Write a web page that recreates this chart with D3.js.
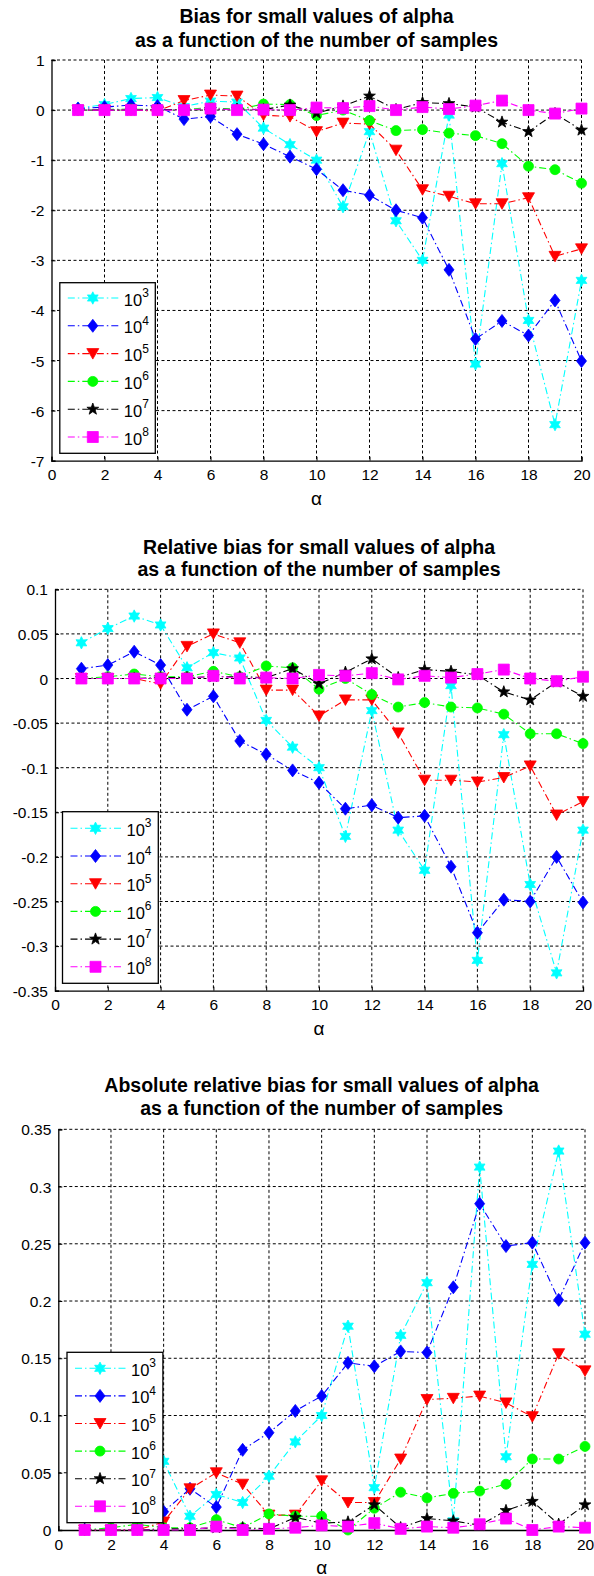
<!DOCTYPE html>
<html>
<head>
<meta charset="utf-8">
<script src="https://cdn.jsdelivr.net/npm/d3@7"></script>
<style>
  html, body { margin: 0; padding: 0; background: #fff; }
  svg { display: block; }
</style>
</head>
<body>
<svg id="chart" width="594" height="1576"></svg>
<script>
// ---------------- DATA ----------------
const alpha = [1,2,3,4,5,6,7,8,9,10,11,12,13,14,15,16,17,18,19,20];
const sampleExponents = ["3","4","5","6","7","8"];   // legend: 10^3 ... 10^8
const xTicks = [0,2,4,6,8,10,12,14,16,18,20];

// Chart 1: bias
const bias1e3 = [0.04,0.11,0.23,0.25,0.07,0.18,0.16,-0.36,-0.69,-1.0,-1.93,-0.43,-2.21,-3.0,-0.1,-5.07,-1.07,-4.2,-6.28,-3.4];
const bias1e4 = [0.03,0.06,0.1,0.08,-0.18,-0.13,-0.48,-0.68,-0.93,-1.18,-1.6,-1.7,-2.0,-2.15,-3.19,-4.57,-4.21,-4.5,-3.8,-5.01];
const bias1e5 = [0.0,0.0,0.0,-0.02,0.19,0.3,0.28,-0.1,-0.13,-0.43,-0.26,-0.28,-0.8,-1.59,-1.72,-1.87,-1.87,-1.75,-2.92,-2.77];
const bias1e6 = [0.0,0.01,0.02,0.01,0.01,0.05,0.01,0.12,0.11,-0.11,0.0,-0.21,-0.41,-0.39,-0.46,-0.51,-0.67,-1.12,-1.19,-1.46];
const bias1e7 = [0.0,0.0,0.0,0.01,0.01,0.01,0.02,0.01,0.1,-0.06,0.08,0.28,0.01,0.15,0.13,0.06,-0.24,-0.43,-0.07,-0.4];
const bias1e8 = [0.0,0.0,0.0,0.0,0.0,0.03,0.0,0.01,0.0,0.05,0.04,0.08,0.0,0.06,0.02,0.09,0.19,0.0,-0.07,0.03];
const yTicksBias = [1,0,-1,-2,-3,-4,-5,-6,-7];

// Chart 2: relative bias
const rel1e3 = [0.04,0.056,0.07,0.06,0.012,0.029,0.023,-0.047,-0.077,-0.1,-0.177,-0.036,-0.17,-0.215,-0.008,-0.316,-0.063,-0.231,-0.33,-0.17];
const rel1e4 = [0.011,0.015,0.03,0.015,-0.035,-0.02,-0.07,-0.085,-0.103,-0.117,-0.146,-0.142,-0.156,-0.154,-0.211,-0.285,-0.248,-0.25,-0.2,-0.251];
const rel1e5 = [0.0,0.0,0.0,-0.006,0.036,0.05,0.04,-0.013,-0.013,-0.042,-0.024,-0.024,-0.061,-0.114,-0.114,-0.116,-0.111,-0.098,-0.153,-0.138];
const rel1e6 = [0.0,0.002,0.005,0.002,0.002,0.008,0.002,0.014,0.012,-0.012,0.0,-0.018,-0.032,-0.027,-0.032,-0.033,-0.04,-0.062,-0.062,-0.073];
const rel1e7 = [0.0,0.0,0.0,0.001,0.001,0.002,0.002,0.001,0.011,-0.006,0.007,0.022,0.001,0.01,0.008,0.004,-0.015,-0.024,-0.004,-0.02];
const rel1e8 = [0.0,0.0,0.0,0.0,0.0,0.003,0.0,0.001,0.0,0.004,0.003,0.006,-0.001,0.003,0.001,0.005,0.01,0.0,-0.003,0.002];
const yTicksRel = [0.1,0.05,0,-0.05,-0.1,-0.15,-0.2,-0.25,-0.3,-0.35];

// Chart 3: absolute relative bias
const abs1e3 = [0.04,0.056,0.07,0.06,0.012,0.031,0.024,0.047,0.077,0.1,0.178,0.037,0.17,0.216,0.008,0.317,0.064,0.232,0.331,0.171];
const abs1e4 = [0.011,0.015,0.03,0.016,0.036,0.02,0.07,0.085,0.104,0.117,0.146,0.143,0.156,0.155,0.212,0.285,0.248,0.251,0.201,0.251];
const abs1e5 = [0.0,0.0,0.0,0.007,0.036,0.05,0.04,0.013,0.013,0.043,0.024,0.024,0.062,0.114,0.115,0.117,0.111,0.099,0.154,0.139];
const abs1e6 = [0.0,0.002,0.005,0.002,0.002,0.009,0.002,0.014,0.012,0.012,0.0,0.019,0.033,0.028,0.032,0.034,0.04,0.062,0.062,0.073];
const abs1e7 = [0.0,0.0,0.0,0.001,0.001,0.002,0.002,0.001,0.011,0.006,0.007,0.022,0.002,0.01,0.008,0.004,0.017,0.025,0.005,0.022];
const abs1e8 = [0.0,0.0,0.0,0.0,0.0,0.003,0.0,0.001,0.002,0.004,0.003,0.006,0.001,0.003,0.002,0.005,0.01,0.0,0.003,0.002];
const yTicksAbs = [0,0.05,0.1,0.15,0.2,0.25,0.3,0.35];

const titles1 = ["Bias for small values of alpha", "as a function of the number of samples"];
const titles2 = ["Relative bias for small values of alpha", "as a function of the number of samples"];
const titles3 = ["Absolute relative bias for small values of alpha", "as a function of the number of samples"];
const xLabel = "\u03B1";

// ---------------- STYLE ----------------
const colors = ["#00ffff", "#0000ff", "#ff0000", "#00ff00", "#000000", "#ff00ff"];
const markerTypes = ["hexagram", "diamond", "triangleDown", "circle", "pentagram", "square"];
const FONT = "'Liberation Sans', Arial, Helvetica, sans-serif";

function starPath(n, ro, ri, rot) {
  const pts = [];
  for (let i = 0; i < 2 * n; i++) {
    const r = i % 2 === 0 ? ro : ri;
    const a = rot + i * Math.PI / n;
    pts.push([r * Math.sin(a), -r * Math.cos(a)]);
  }
  return "M" + pts.map(p => p[0].toFixed(2) + "," + p[1].toFixed(2)).join("L") + "Z";
}
const circlePath = (() => { const p = d3.path(); p.arc(0, 0, 5, 0, 2 * Math.PI); p.closePath(); return p.toString(); })();
const markerPaths = {
  hexagram: starPath(6, 6.2, 3.4, 0),
  diamond: "M0,-6.5L5,0L0,6.5L-5,0Z",
  triangleDown: "M-6,-5L6,-5L0,5.5Z",
  circle: circlePath,
  pentagram: starPath(5, 6.2, 2.5, 0),
  square: "M-5.5,-5.5L5.5,-5.5L5.5,5.5L-5.5,5.5Z"
};

// ---------------- LAYOUT ----------------
const panels = [
  { titles: titles1, series: [bias1e3, bias1e4, bias1e5, bias1e6, bias1e7, bias1e8],
    yTicks: yTicksBias, yDomain: [-7, 1],
    rect: { l: 51.5, r: 581.5, t: 60, b: 460.7 }, titleY: [16, 39.5], xTickY: 475, xLabelY: 498,
    legend: { l: 59.8, r: 155.3, t: 282.7, b: 453.3, y0: 298, dy: 27.8 } },
  { titles: titles2, series: [rel1e3, rel1e4, rel1e5, rel1e6, rel1e7, rel1e8],
    yTicks: yTicksRel, yDomain: [-0.35, 0.1],
    rect: { l: 55, r: 583, t: 589.3, b: 990.7 }, titleY: [547, 569.3], xTickY: 1005, xLabelY: 1028,
    legend: { l: 62.5, r: 158.3, t: 811.7, b: 983.3, y0: 828.3, dy: 27.7 } },
  { titles: titles3, series: [abs1e3, abs1e4, abs1e5, abs1e6, abs1e7, abs1e8],
    yTicks: yTicksAbs, yDomain: [0, 0.35],
    rect: { l: 58.3, r: 585, t: 1129.3, b: 1530 }, titleY: [1085, 1108.3], xTickY: 1544, xLabelY: 1567,
    legend: { l: 67, r: 162.9, t: 1352.3, b: 1522.7, y0: 1368.3, dy: 27.6 } }
];

const svg = d3.select("#chart");

panels.forEach(p => {
  const g = svg.append("g");
  const x = d3.scaleLinear().domain([0, 20]).range([p.rect.l, p.rect.r]);
  const y = d3.scaleLinear().domain(p.yDomain).range([p.rect.b, p.rect.t]);
  const cx = (p.rect.l + p.rect.r) / 2;

  // titles
  p.titles.forEach((t, i) => {
    g.append("text").attr("x", cx).attr("y", p.titleY[i])
      .attr("text-anchor", "middle").attr("dominant-baseline", "central")
      .style("font-family", FONT).style("font-weight", "bold").style("font-size", "19.5px")
      .text(t);
  });

  // grid
  const grid = g.append("g").attr("stroke", "#000").attr("stroke-width", 1)
    .attr("stroke-dasharray", "3,2.5").attr("fill", "none");
  xTicks.filter(v => v !== 0).forEach(v => {
    grid.append("line").attr("x1", x(v)).attr("x2", x(v)).attr("y1", p.rect.t).attr("y2", p.rect.b);
  });
  p.yTicks.filter(v => v !== p.yDomain[0]).forEach(v => {
    grid.append("line").attr("x1", p.rect.l).attr("x2", p.rect.r).attr("y1", y(v)).attr("y2", y(v));
  });

  // axes (left & bottom solid) with inward ticks
  const yAxis = d3.axisLeft(y).tickValues(p.yTicks).tickSize(-4).tickPadding(7).tickFormat(d => String(d));
  const xAxis = d3.axisBottom(x).tickValues(xTicks).tickSize(-4).tickPadding(8).tickFormat(d => String(d));
  const ya = g.append("g").attr("transform", `translate(${p.rect.l},0)`).call(yAxis);
  const xa = g.append("g").attr("transform", `translate(0,${p.rect.b})`).call(xAxis);
  [ya, xa].forEach(a => {
    a.select(".domain").attr("stroke", "#000").attr("stroke-width", 1.3);
    a.selectAll(".tick line").attr("stroke", "#000");
    a.selectAll("text").style("font-family", FONT).style("font-size", "15.5px").attr("fill", "#000");
  });
  ya.selectAll("text").attr("dy", null).attr("dominant-baseline", "central");
  xa.selectAll("text").attr("dy", null).attr("y", p.xTickY - p.rect.b).attr("dominant-baseline", "central");

  // x label
  g.append("text").attr("x", cx).attr("y", p.xLabelY)
    .attr("text-anchor", "middle").attr("dominant-baseline", "central")
    .style("font-family", FONT).style("font-size", "19px").text(xLabel);

  // series
  const line = d3.line().x((d, i) => x(alpha[i])).y(d => y(d));
  p.series.forEach((vals, si) => {
    const sg = g.append("g");
    sg.append("path").datum(vals).attr("d", line)
      .attr("fill", "none").attr("stroke", colors[si]).attr("stroke-width", 1.1)
      .attr("stroke-dasharray", "7,3,1.5,3");
    sg.selectAll("path.m").data(vals).enter().append("path").attr("class", "m")
      .attr("d", markerPaths[markerTypes[si]])
      .attr("transform", (d, i) => `translate(${x(alpha[i])},${y(d)})`)
      .attr("fill", colors[si]).attr("stroke", colors[si]).attr("stroke-width", 0.8);
  });

  // legend
  const L = p.legend;
  const lg = g.append("g");
  lg.append("rect").attr("x", L.l).attr("y", L.t).attr("width", L.r - L.l).attr("height", L.b - L.t)
    .attr("fill", "#fff").attr("stroke", "#000").attr("stroke-width", 1.3);
  sampleExponents.forEach((e, i) => {
    const yy = L.y0 + i * L.dy;
    lg.append("line").attr("x1", L.l + 8).attr("x2", L.l + 59).attr("y1", yy).attr("y2", yy)
      .attr("stroke", colors[i]).attr("stroke-width", 1.1).attr("stroke-dasharray", "7,3,1.5,3");
    lg.append("path").attr("d", markerPaths[markerTypes[i]])
      .attr("transform", `translate(${L.l + 33},${yy})`)
      .attr("fill", colors[i]).attr("stroke", colors[i]).attr("stroke-width", 0.8);
    const t = lg.append("text").attr("x", L.l + 64).attr("y", yy + 7.5)
      .style("font-family", FONT).style("font-size", "16.5px");
    t.append("tspan").text("10");
    t.append("tspan").attr("dy", -8.5).style("font-size", "12px").text(e);
  });
});
</script>
</body>
</html>
